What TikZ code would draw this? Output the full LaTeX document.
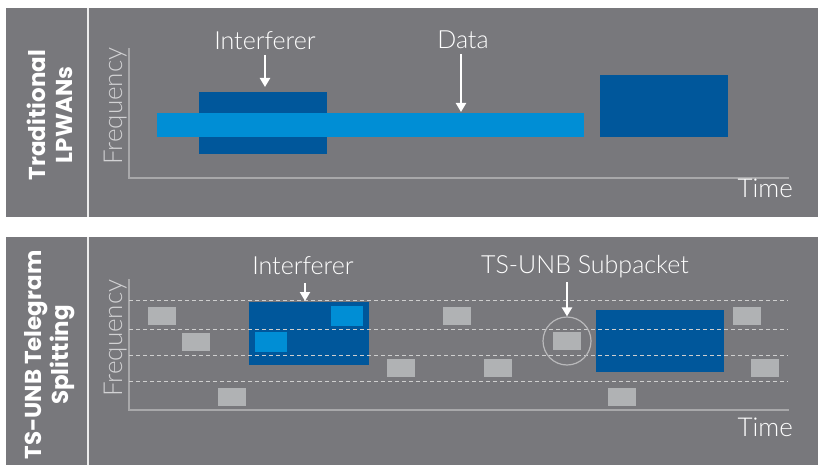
\documentclass[tikz,border=0pt]{standalone}
\usepackage{fontspec}
\setmainfont{Lato}
\IfFontExistsTF{Lato Light}{\newfontfamily\lblfont{Lato Light}}{\newfontfamily\lblfont{Lato}}
\newfontfamily\sidefont{Poppins}
\usetikzlibrary{arrows.meta,calc,positioning}
\definecolor{panelgray}{HTML}{78787C}
\definecolor{darkblue}{HTML}{00579B}
\definecolor{lightblue}{HTML}{008ED5}
\definecolor{pktgray}{HTML}{B0B2B4}
\definecolor{axisgray}{HTML}{A8A8AA}
\definecolor{dashgray}{HTML}{CFCFCF}
\definecolor{freqgray}{HTML}{D2D2D4}
\tikzset{
  blk/.style={rectangle, inner sep=0pt, outer sep=0pt, anchor=north west},
  intf/.style={blk, fill=darkblue},
  databox/.style={blk, fill=lightblue},
  pkt/.style={blk, fill=pktgray, minimum width=28pt, minimum height=18pt},
  lbl/.style={text=white, font=\lblfont\fontsize{25}{29}\selectfont, inner sep=0pt},
  timelbl/.style={lbl, font=\lblfont\fontsize{26}{30}\selectfont, anchor=base east},
  freq/.style={lbl, text=freqgray, font=\lblfont\fontsize{26}{30}\selectfont, rotate=90},
  side/.style={text=white, font=\sidefont\bfseries\fontsize{23}{27}\selectfont,
    rotate=90, align=center, inner sep=0pt},
  axis/.style={draw=axisgray, line width=1.5pt},
  chan/.style={draw=dashgray, line width=1pt, dash pattern=on 4pt off 3pt},
  divider/.style={draw=white!85!gray, line width=1.5pt},
  arr/.style={draw=white, line width=2.4pt, -{Triangle[width=10pt,length=9pt]}},
  ring/.style={circle, draw=axisgray!80!white, line width=1.2pt, minimum size=48pt, inner sep=0pt}
}
\begin{document}
\begin{tikzpicture}[x=1pt,y=-1pt]
  \useasboundingbox[fill=white] (0,0) rectangle (818,465);
  % panels
  \fill[panelgray] (6,8) rectangle (818,217);
  \fill[panelgray] (6,237) rectangle (818,465);
  \draw[divider] (88,8) -- (88,217);
  \draw[divider] (88,237) -- (88,465);
  \node[side] (sidetop) at (50,115) {Traditional\\LPWANs};
  \node[side] (sidebot) at (50,355) {TS-UNB Telegram\\Splitting};

  % traditional LPWANs
  \draw[axis] (129,48) -- (129,178) -- (789,178);
  \node[freq, anchor=base west] (freqtop) at (122,165) {Frequency};
  \node[timelbl] (timetop) at (793,197) {Time};
  \node[intf, minimum width=128pt, minimum height=62pt] (intftop) at (199,92) {};
  \node[databox, minimum width=427pt, minimum height=24pt] (databar) at (157,113) {};
  \node[intf, minimum width=128pt, minimum height=62pt] (blocktop) at (600,75) {};
  \node[lbl, anchor=base] (intflbltop) at (265,50) {Interferer};
  \node[lbl, anchor=base] (datalbl) at (463,49) {Data};
  \draw[arr] ($(intflbltop.base)+(0,5)$) -- ($(intflbltop.base |- intftop.north)+(0,-5)$);
  \draw[arr] ($(datalbl.base)+(-2,5)$) -- ($(datalbl.base |- databar.north)+(-2,-1)$);

  % telegram splitting
  \draw[axis] (129,279) -- (129,410) -- (789,410);
  \node[freq, anchor=base west] (freqbot) at (122,397) {Frequency};
  \node[timelbl] (timebot) at (793,436) {Time};
  \node[intf, minimum width=120pt, minimum height=63pt] (intfbot) at (249,302) {};
  \node[databox, minimum width=32pt, minimum height=20pt] (hit1) at (331,306) {};
  \node[databox, minimum width=32pt, minimum height=20pt] (hit2) at (255,332) {};
  \node[intf, minimum width=128pt, minimum height=62pt] (blockbot) at (596,310) {};
  \foreach \x/\y [count=\i] in {148/307, 182/333, 218/388, 387/359, 443/307,
      484/359, 553/332, 608/388, 733/307, 751/359}
    \node[pkt] (p\i) at (\x,\y) {};
  \foreach \y in {300,329,355,381}
    \draw[chan] (129,\y) -- (788,\y);
  \node[ring] (ring) at (p7.center) {};
  \node[lbl, anchor=base] (intflblbot) at (303,274) {Interferer};
  \node[lbl, anchor=base] (sublbl) at (585,273) {TS-UNB Subpacket};
  \draw[arr] ($(intflblbot.base)+(2,9)$) -- ($(intflblbot.base |- intfbot.north)+(2,-1)$);
  \coordinate (subtop) at ($(sublbl.base)+(0,9)$);
  \draw[arr] (subtop -| ring.north) -- (ring.north);
\end{tikzpicture}
\end{document}
